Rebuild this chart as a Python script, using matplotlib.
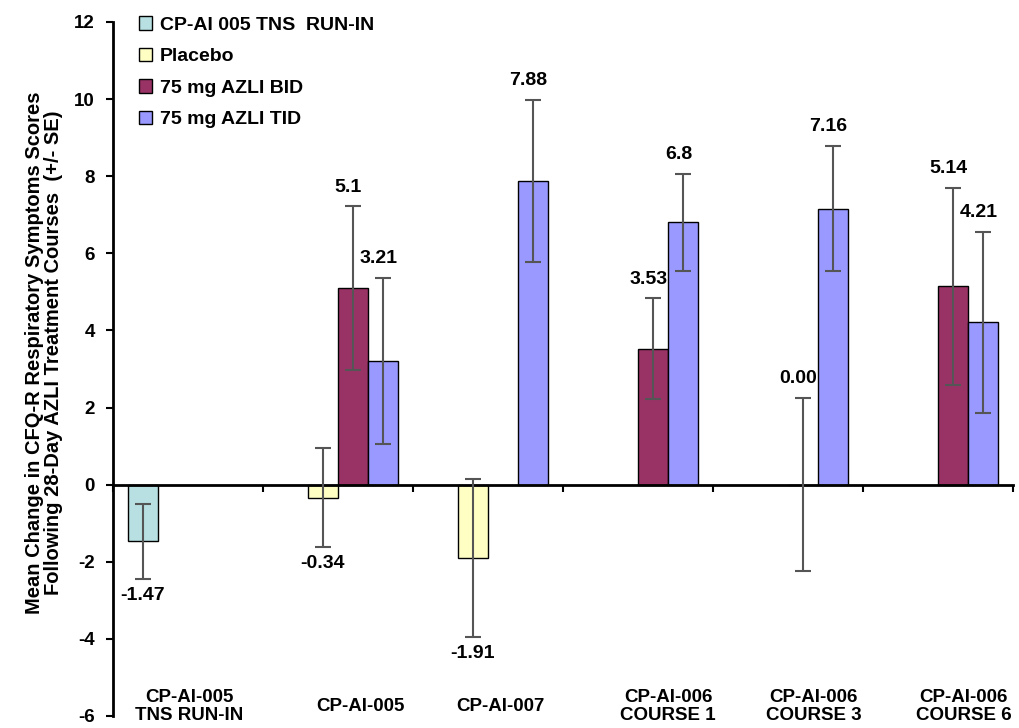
import numpy as np
import matplotlib
matplotlib.use("Agg")
import matplotlib.pyplot as plt
from matplotlib.patches import Patch

nan = np.nan

categories = ["CP-AI-005\nTNS RUN-IN", "CP-AI-005", "CP-AI-007",
              "CP-AI-006\nCOURSE 1", "CP-AI-006\nCOURSE 3", "CP-AI-006\nCOURSE 6"]
series_names = ["CP-AI 005 TNS  RUN-IN", "Placebo", "75 mg AZLI BID", "75 mg AZLI TID"]

run_in = [-1.47, nan, nan, nan, nan, nan]
placebo = [nan, -0.34, -1.91, nan, nan, nan]
azli_bid = [nan, 5.10, nan, 3.53, 0.00, 5.14]
azli_tid = [nan, 3.21, 7.88, 6.80, 7.16, 4.21]

run_in_se = [0.98, nan, nan, nan, nan, nan]
placebo_se = [nan, 1.28, 2.05, nan, nan, nan]
azli_bid_se = [nan, 2.12, nan, 1.30, 2.25, 2.55]
azli_tid_se = [nan, 2.15, 2.10, 1.25, 1.63, 2.35]

colors = ["#B8E0E2", "#FFFFC4", "#993366", "#9999FF"]

plt.rcParams['font.family'] = ['Liberation Sans', 'DejaVu Sans']
plt.rcParams['font.weight'] = 'bold'
plt.rcParams['axes.unicode_minus'] = False

fig = plt.figure(figsize=(10.2, 7.28), dpi=100)
ax = fig.add_axes([113 / 1020, 12 / 728, 900 / 1020, 694 / 728])

values = [run_in, placebo, azli_bid, azli_tid]
errors = [run_in_se, placebo_se, azli_bid_se, azli_tid_se]
n_cat = len(categories)
x = np.arange(n_cat)
width = 0.2

for i, (vals, errs) in enumerate(zip(values, errors)):
    pos = x + (i - 1.5) * width
    ax.bar(pos, vals, width, color=colors[i], edgecolor="black", linewidth=1, zorder=2)
    ax.errorbar(pos, vals, yerr=errs, fmt="none", ecolor="#555555", elinewidth=1.5,
                capsize=6, capthick=1.5, zorder=3)
    for p, v, e in zip(pos, vals, errs):
        if np.isnan(v):
            continue
        txt = "0.00" if v == 0 else f"{v:g}"
        if v >= 0:
            ax.text(p - 0.03, v + e + 0.28, txt, ha="center", va="bottom", fontsize=14,
                    fontweight="bold")
        else:
            ax.text(p, v - e - 0.2, txt, ha="center", va="top", fontsize=14,
                    fontweight="bold")

ax.set_xlim(-0.5, n_cat - 0.5)
ax.set_ylim(-6, 12)
ax.set_yticks(np.arange(-6, 13, 2))
ax.tick_params(axis="y", direction="out", length=5, width=1.5, labelsize=13.5, pad=8)

ax.spines["top"].set_visible(False)
ax.spines["right"].set_visible(False)
ax.spines["left"].set_linewidth(2)
ax.spines["bottom"].set_position(("data", 0))
ax.spines["bottom"].set_linewidth(2)
ax.set_xticks(np.arange(n_cat + 1) - 0.5)
ax.set_xticklabels([])
ax.tick_params(axis="x", direction="out", length=5, width=1.5)

label_shift = [0.01, 0.15, 0.08, 0.2, 0.17, 0.17]
for xi, name, s in zip(x, categories, label_shift):
    ax.text(xi + s, -5.75, name, ha="center", va="center", fontsize=13.5,
            fontweight="bold", linespacing=1.05)

ax.set_ylabel("Mean Change in CFQ-R Respiratory Symptoms Scores\n"
              "Following 28-Day AZLI Treatment Courses  (+/- SE)",
              fontsize=14.5, fontweight="bold", linespacing=0.95)
ax.yaxis.set_label_coords(-0.056, 0.524)

handles = [Patch(facecolor=c, edgecolor="black", linewidth=1) for c in colors]
ax.legend(handles, series_names, loc="upper left", bbox_to_anchor=(0.02, 1.02),
          frameon=False, fontsize=14, handlelength=0.7, handleheight=0.7,
          handletextpad=0.4, labelspacing=0.72, borderaxespad=0)

fig.savefig("out.png", dpi=100)
